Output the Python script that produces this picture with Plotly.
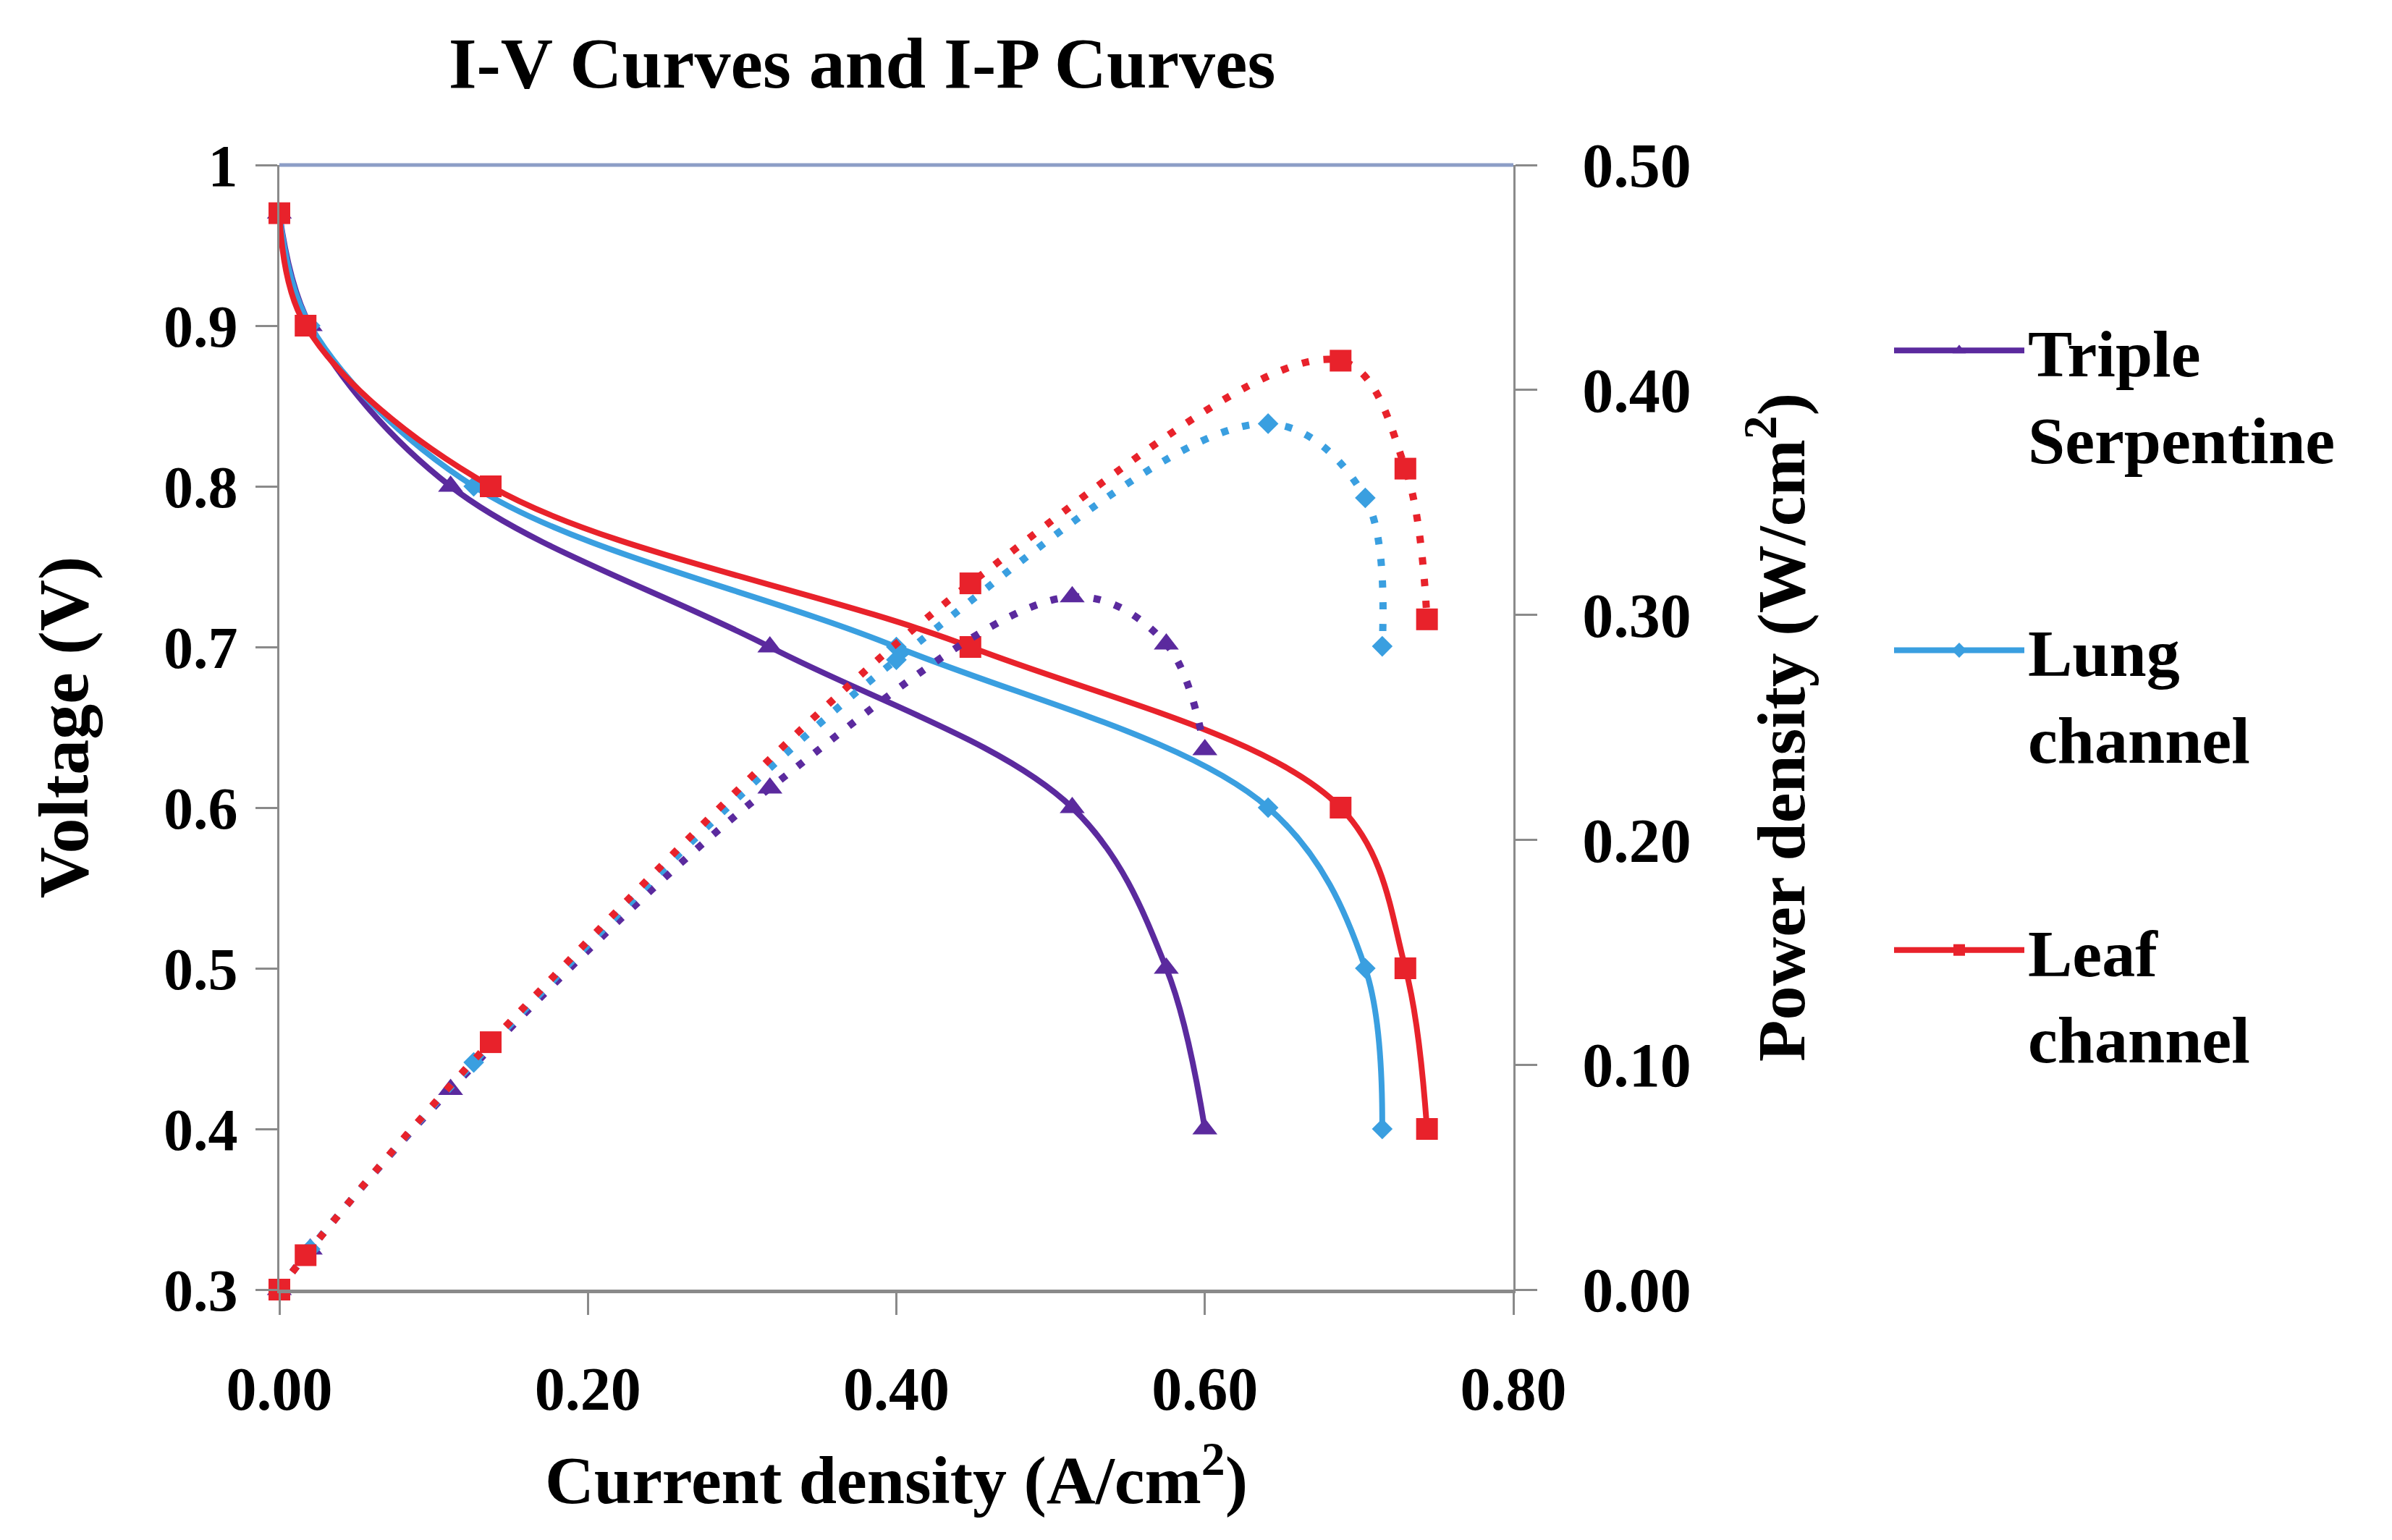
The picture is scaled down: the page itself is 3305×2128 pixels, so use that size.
import plotly.graph_objects as go

# ---- data ----
ts_current = [0.0, 0.02, 0.111, 0.318, 0.514, 0.575, 0.600]
ts_voltage = [0.97, 0.90, 0.80, 0.70, 0.60, 0.50, 0.40]
ts_power = [0.0, 0.018, 0.089, 0.223, 0.308, 0.287, 0.240]

lung_current = [0.0, 0.02, 0.126, 0.400, 0.641, 0.704, 0.715]
lung_voltage = [0.97, 0.90, 0.80, 0.70, 0.60, 0.50, 0.40]
lung_power = [0.0, 0.018, 0.101, 0.280, 0.385, 0.352, 0.286]

leaf_current = [0.0, 0.017, 0.137, 0.448, 0.688, 0.730, 0.744]
leaf_voltage = [0.97, 0.90, 0.80, 0.70, 0.60, 0.50, 0.40]
leaf_power = [0.0, 0.0153, 0.110, 0.314, 0.413, 0.365, 0.298]

series_names = ["Triple<br>Serpentine", "Lung<br>channel", "Leaf<br>channel"]
x_ticks = [0.0, 0.2, 0.4, 0.6, 0.8]
v_ticks = [0.3, 0.4, 0.5, 0.6, 0.7, 0.8, 0.9, 1.0]
p_ticks = [0.0, 0.1, 0.2, 0.3, 0.4, 0.5]

FONT = "Liberation Serif"
colors = ["#5B2A9E", "#3A9FE0", "#E8222B"]
symbols = ["triangle-up", "diamond", "square"]
msizes = [30, 22, 30]

currents = [ts_current, lung_current, leaf_current]
voltages = [ts_voltage, lung_voltage, leaf_voltage]
powers = [ts_power, lung_power, leaf_power]

fig = go.Figure()
for i in range(3):
    fig.add_trace(go.Scatter(
        x=currents[i], y=powers[i], yaxis="y2", mode="lines+markers",
        line=dict(color=colors[i], width=10, dash="10px,20px", shape="spline", smoothing=1.0),
        marker=dict(symbol=symbols[i], size=msizes[i], color=colors[i]),
        showlegend=False, cliponaxis=False,
    ))
for i in range(3):
    fig.add_trace(go.Scatter(
        x=currents[i], y=voltages[i], mode="lines+markers", name=series_names[i],
        legendgroup=f"g{i}",
        line=dict(color=colors[i], width=8, shape="spline", smoothing=1.0),
        marker=dict(symbol=symbols[i], size=msizes[i], color=colors[i]),
        cliponaxis=False,
    ))

W, H = 3305, 2128
L, R, T, B = 386, 2091, 228, 1782

fig.update_layout(
    width=W, height=H,
    margin=dict(l=L, r=W - R, t=T, b=H - B),
    paper_bgcolor="white", plot_bgcolor="white",
    font=dict(family=FONT, color="black", weight="bold"),
    title=dict(text="I-V Curves and I-P Curves", x=1191 / W, xanchor="center",
               y=1 - 86 / H, yanchor="middle", xref="container", yref="container",
               font=dict(family=FONT, size=100, weight="bold")),
    xaxis=dict(range=[0, 0.8], tickvals=x_ticks, tickformat=".2f",
               showgrid=False, zeroline=False, showline=True, linecolor="#8a8a8a", linewidth=5,
               ticks="outside", ticklen=30, tickwidth=3, tickcolor="#8a8a8a",
               tickfont=dict(family=FONT, size=84, weight="bold"), ticklabelstandoff=30,
               title=dict(text="Current density (A/cm<sup>2</sup>)", standoff=48,
                          font=dict(family=FONT, size=94, weight="bold"))),
    yaxis=dict(range=[0.3, 1.0], tickvals=v_ticks, ticktext=[f"{v:g}" for v in v_ticks],
               showgrid=False, zeroline=False, showline=True, linecolor="#8a8a8a", linewidth=3,
               ticks="outside", ticklen=30, tickwidth=3, tickcolor="#8a8a8a",
               tickfont=dict(family=FONT, size=82, weight="bold"), ticklabelstandoff=8,
               title=dict(text="Voltage (V)", standoff=72,
                          font=dict(family=FONT, size=98, weight="bold"))),
    yaxis2=dict(range=[0, 0.5], tickvals=p_ticks, tickformat=".2f", overlaying="y", side="right",
                showgrid=False, zeroline=False, showline=True, linecolor="#8a8a8a", linewidth=3,
                ticks="outside", ticklen=30, tickwidth=3, tickcolor="#8a8a8a",
                tickfont=dict(family=FONT, size=86, weight="bold"), ticklabelstandoff=45,
                title=dict(text="Power density (W/cm<sup>2</sup>)", standoff=92,
                           font=dict(family=FONT, size=94, weight="bold"))),
    legend=dict(x=2612 / W, y=1 - 418 / H, xref="container", yref="container",
                xanchor="left", yanchor="top", valign="top", traceorder="grouped",
                tracegroupgap=172, itemwidth=180, bgcolor="rgba(0,0,0,0)", maxheight=1900,
                font=dict(family=FONT, size=92, weight="bold")),
    shapes=[dict(type="line", xref="paper", yref="paper", x0=0, x1=1, y0=1, y1=1,
                 line=dict(color="#8c9ec6", width=5))],
)

fig.write_html("out.html")
